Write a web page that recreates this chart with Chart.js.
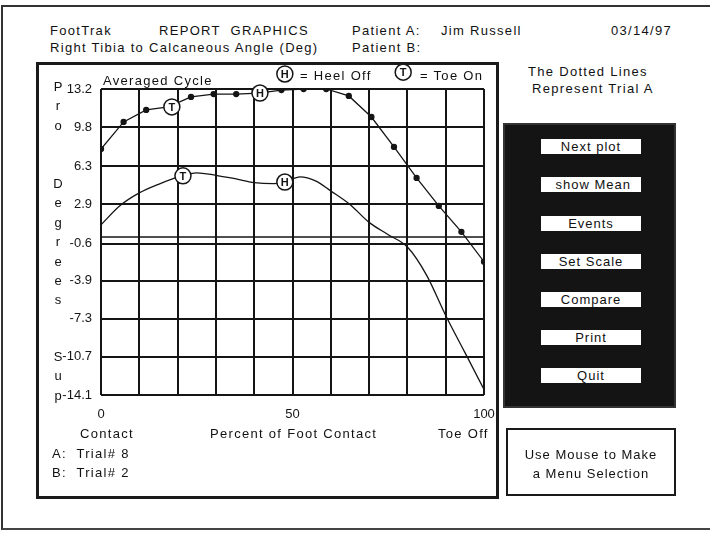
<!DOCTYPE html>
<html>
<head>
<meta charset="utf-8">
<script src="https://cdn.jsdelivr.net/npm/chart.js@4.4.0/dist/chart.umd.min.js"></script>
<style>
  body { margin:0; background:#fff; }
  #page { position:relative; width:710px; height:555px; overflow:hidden; font-family:'Liberation Sans', Arial, sans-serif; color:#111; }
  .t { position:absolute; font-size:13px; line-height:14px; white-space:nowrap; letter-spacing:1.3px; }
  #frame { position:absolute; left:1px; top:5px; width:740px; height:521px; border-left:2px solid #333; border-top:2px solid #333; border-bottom:2px solid #444; }
  #plotbox { position:absolute; left:36px; top:62px; width:463px; height:437px; box-sizing:border-box; border:3px solid #1a1a1a; background:#fff; }
  #menu { position:absolute; left:503px; top:123px; width:173px; height:285px; box-sizing:border-box; background:#141414; border:2px solid #333; }
  .btn { position:absolute; left:36px; width:100px; height:15px; background:#fff; font-size:13px; line-height:15px; text-align:center; letter-spacing:1px; white-space:nowrap; }
  #help { position:absolute; left:506px; top:428px; width:170px; height:68px; box-sizing:border-box; border:2px solid #1a1a1a; text-align:center; font-size:13px; letter-spacing:1px; line-height:19px; padding-top:15px; white-space:nowrap; }
  .vert { position:absolute; left:52px; width:12px; text-align:center; font-size:13px; line-height:19.4px; }
</style>
</head>
<body>
<div id="page">
  <div id="frame"></div>

  <div class="t" style="left:50px;top:24px">FootTrak</div>
  <div class="t" style="left:159px;top:24px">REPORT&nbsp; GRAPHICS</div>
  <div class="t" style="left:352px;top:24px">Patient A:</div>
  <div class="t" style="left:441px;top:24px">Jim Russell</div>
  <div class="t" style="left:611px;top:24px">03/14/97</div>
  <div class="t" style="left:50px;top:41px">Right Tibia to Calcaneous Angle (Deg)</div>
  <div class="t" style="left:352px;top:41px">Patient B:</div>

  <div class="t" style="left:528px;top:65px">The Dotted Lines</div>
  <div class="t" style="left:532px;top:82px">Represent Trial A</div>

  <div id="plotbox">
    <canvas id="chart" width="457" height="431"></canvas>
  </div>

  <div class="vert" style="top:77px">P<br>r<br>o</div>
  <div class="vert" style="top:174px">D<br>e<br>g<br>r<br>e<br>e<br>s</div>
  <div class="vert" style="top:347px">S<br>u<br>p</div>

  <div class="t" style="left:103px;top:74px">Averaged Cycle</div>
  <div class="t" style="left:300px;top:69px">= Heel Off</div>
  <div class="t" style="left:420px;top:69px">= Toe On</div>

  <div class="t" style="left:80px;top:427px">Contact</div>
  <div class="t" style="left:210px;top:427px">Percent of Foot Contact</div>
  <div class="t" style="left:438px;top:427px">Toe Off</div>
  <div class="t" style="left:52px;top:447px">A:&nbsp; Trial# 8</div>
  <div class="t" style="left:52px;top:466px">B:&nbsp; Trial# 2</div>

  <div id="menu">
    <div class="btn" style="top:14px">Next plot</div>
    <div class="btn" style="top:52px">&nbsp;show Mean</div>
    <div class="btn" style="top:91px">Events</div>
    <div class="btn" style="top:129px">Set Scale</div>
    <div class="btn" style="top:167px">Compare</div>
    <div class="btn" style="top:205px">Print</div>
    <div class="btn" style="top:243px">Quit</div>
  </div>

  <div id="help">Use Mouse to Make<br>a Menu Selection</div>
</div>

<script>
// tick labels
const xTicks = [0, 50, 100]
const yTicks = [13.2, 9.8, 6.3, 2.9, -0.6, -3.9, -7.3, -10.7, -14.1]

// Trial A (dotted line, with points)
const trialAX = [0, 5.9, 11.8, 17.6, 23.5, 29.4, 35.3, 41.2, 47.1, 52.9, 58.8, 64.7, 70.6, 76.5, 82.4, 88.2, 94.1, 100]
const trialAY = [7.85, 10.26, 11.33, 11.6, 12.49, 12.75, 12.75, 12.84, 13.1, 13.2, 13.2, 12.58, 10.7, 8.03, 5.27, 2.77, 0.46, -2.21]

// Trial B (solid line)
const trialBX = [0, 5, 10, 15, 21, 25, 30, 35, 40, 45, 48, 52, 56, 60, 65, 70, 75, 80, 85, 90, 95, 100]
const trialBY = [1.08, 2.8, 3.93, 4.7, 5.45, 5.72, 5.5, 5.2, 4.85, 4.75, 4.9, 5.36, 5.0, 4.1, 2.9, 1.3, 0.2, -0.9, -3.4, -7.0, -10.3, -13.6]

// gait events: T = toe on, H = heel off (last two are the key)
const eventX = [18.5, 41.5, 21.4, 48.0, 48.0, 78.9]
const eventY = [11.6, 12.84, 5.45, 4.9, 14.54, 14.7]
const eventTag = ['T', 'H', 'T', 'H', 'H', 'T']

const zeroX = [0, 100]
const zeroY = [0, 0]

function pts(xs, ys) {
  return xs.map((x, i) => ({ x: x, y: ys[i] }))
}

const ink = '#151515'
Chart.defaults.font.family = "'Liberation Sans', Arial, sans-serif"
Chart.defaults.font.size = 12
Chart.defaults.color = ink

// circle + letter for each event (the key circles sit above the plot area,
// where chart.js would skip the point, so draw them all here)
const eventLetters = {
  id: 'eventLetters',
  afterDatasetsDraw(chart) {
    const meta = chart.getDatasetMeta(0)
    const ctx = chart.ctx
    ctx.save()
    ctx.font = "bold 11px 'Liberation Sans', Arial, sans-serif"
    ctx.textAlign = 'center'
    ctx.textBaseline = 'middle'
    ctx.lineWidth = 1.5
    meta.data.forEach((el, i) => {
      ctx.beginPath()
      ctx.arc(el.x, el.y, 8, 0, Math.PI * 2)
      ctx.fillStyle = '#fff'
      ctx.fill()
      ctx.strokeStyle = ink
      ctx.stroke()
      ctx.fillStyle = ink
      ctx.fillText(eventTag[i], el.x, el.y + 1)
    })
    ctx.restore()
  }
}

var chart = new Chart(document.getElementById('chart'), {
  type: 'scatter',
  data: {
    datasets: [
      {
        label: 'Events',
        data: pts(eventX, eventY),
        pointRadius: 0,
        showLine: false,
        clip: false,
      },
      {
        label: 'Trial A',
        data: pts(trialAX, trialAY),
        showLine: true,
        borderColor: ink,
        borderWidth: 1.3,
        pointRadius: 2.5,
        pointBackgroundColor: ink,
        pointBorderColor: ink,
        tension: 0,
      },
      {
        label: 'Trial B',
        data: pts(trialBX, trialBY),
        showLine: true,
        borderColor: ink,
        borderWidth: 1.3,
        pointRadius: 0,
        cubicInterpolationMode: 'monotone',
      },
      {
        label: 'Zero',
        data: pts(zeroX, zeroY),
        showLine: true,
        borderColor: ink,
        borderWidth: 1.5,
        pointRadius: 0,
      },
    ],
  },
  options: {
    responsive: false,
    animation: false,
    events: [],
    layout: { padding: { left: 0, top: 24, right: 12, bottom: 0 } },
    plugins: { legend: { display: false }, tooltip: { enabled: false } },
    scales: {
      x: {
        type: 'linear',
        min: 0,
        max: 100,
        border: { display: false },
        grid: { color: ink, lineWidth: 2, drawTicks: false },
        ticks: {
          stepSize: 10,
          autoSkip: false,
          maxRotation: 0,
          padding: 12,
          font: { size: 13 },
          callback: v => xTicks.includes(v) ? String(v) : '',
        },
        afterFit: s => { s.height = 101; s.paddingLeft = 0; s.paddingRight = 0 },
      },
      y: {
        min: -14.1,
        max: 13.2,
        border: { display: false },
        grid: { color: ink, lineWidth: 2, drawTicks: false },
        afterBuildTicks: s => { s.ticks = yTicks.map(v => ({ value: v })) },
        ticks: {
          padding: 9,
          font: { size: 13 },
          callback: v => v.toFixed(1),
        },
        afterFit: s => { s.width = 62 },
      },
    },
  },
  plugins: [eventLetters],
})
</script>
</body>
</html>
